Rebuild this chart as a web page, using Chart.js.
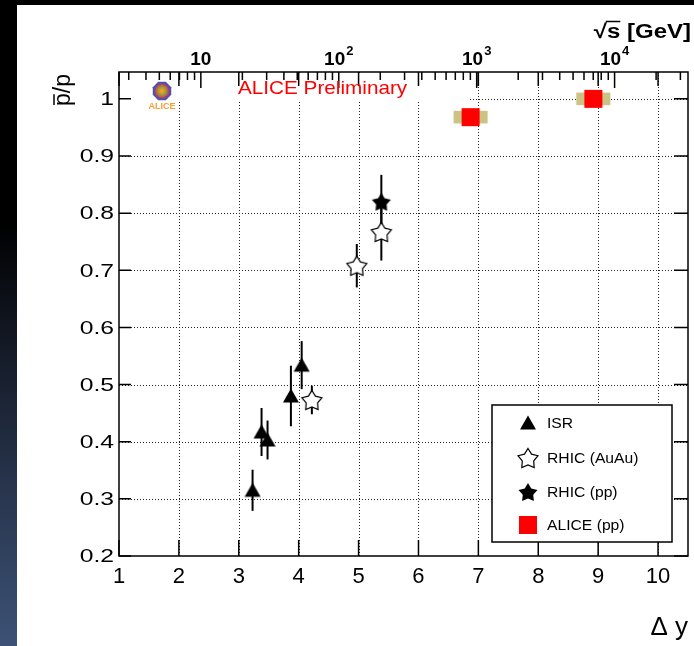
<!DOCTYPE html>
<html>
<head>
<meta charset="utf-8">
<script src="https://cdn.jsdelivr.net/npm/chart.js"></script>
<style>
  html, body { margin: 0; padding: 0; }
  body {
    width: 694px; height: 646px; overflow: hidden; position: relative;
    background: linear-gradient(to bottom, #000 0%, #000 34%, #1a2232 60%, #3d5276 100%);
  }
  #panel { position: absolute; left: 17px; top: 5px; width: 677px; height: 641px; background: #fff; }
</style>
</head>
<body>
<div id="panel"><canvas id="chart" width="677" height="641"></canvas></div>
<script>
// pbar/p ratio vs rapidity gap (bottom) and sqrt(s) (top)
const xMin = 1;
const xMax = 10.5;
const yMin = 0.2;
const yMax = 1.047;
const protonMass = 0.938;

const xTicks = [1, 2, 3, 4, 5, 6, 7, 8, 9, 10];
const yTicks = [0.2, 0.3, 0.4, 0.5, 0.6, 0.7, 0.8, 0.9, 1.0];
const sqrtsTicks = [10, 100, 1000, 10000];
const sqrtsExp = ["", "2", "3", "4"];

const isrX = [3.23, 3.38, 3.48, 3.87, 4.05];
const isrY = [0.315, 0.417, 0.403, 0.480, 0.534];
const isrErr = [0.036, 0.042, 0.034, 0.053, 0.042];

const auauX = [4.22, 4.97, 5.38];
const auauY = [0.473, 0.708, 0.767];
const auauErr = [0.025, 0.038, 0.050];

const rhicPpX = [5.38];
const rhicPpY = [0.820];
const rhicPpErr = [0.047];

const aliceX = [6.87, 8.92];
const aliceY = [0.968, 1.000];
const aliceSys = [0.011, 0.011];

const FONT = "'Liberation Sans', Arial, Helvetica, sans-serif";

function marker(size, draw) {
    const c = document.createElement("canvas");
    c.width = size;
    c.height = size;
    draw(c.getContext("2d"), size / 2);
    return c;
}

function starPath(g, c, R, r) {
    g.beginPath();
    for (let i = 0; i < 10; i++) {
        const a = -Math.PI / 2 + i * Math.PI / 5;
        const rad = i % 2 ? r : R;
        const px = c + Math.cos(a) * rad;
        const py = c + 1 + Math.sin(a) * rad;
        if (i === 0) g.moveTo(px, py); else g.lineTo(px, py);
    }
    g.closePath();
}

const triangleImg = marker(18, (g, c) => {
    g.beginPath();
    g.moveTo(c, c - 7.5);
    g.lineTo(c + 8, c + 6.5);
    g.lineTo(c - 8, c + 6.5);
    g.closePath();
    g.fillStyle = "#000";
    g.fill();
});

const openStarImg = marker(26, (g, c) => {
    starPath(g, c, 10.5, 6);
    g.fillStyle = "#fff";
    g.fill();
    g.lineWidth = 1.2;
    g.strokeStyle = "#000";
    g.stroke();
});

const fullStarImg = marker(24, (g, c) => {
    starPath(g, c, 10, 5.5);
    g.fillStyle = "#000";
    g.fill();
});

const squareImg = marker(20, (g, c) => {
    g.fillStyle = "#ff0000";
    g.fillRect(c - 9, c - 9, 18, 18);
});

function pts(xs, ys) {
    return xs.map((x, i) => ({ x: x, y: ys[i] }));
}

function topMinorTicks() {
    const out = [];
    const lo = protonMass * Math.exp(xMin);
    const hi = protonMass * Math.exp(xMax);
    for (let k = 0; k < 5; k++) {
        for (let m = 2; m <= 9; m++) {
            const v = m * Math.pow(10, k);
            if (v > lo && v < hi) out.push(v);
        }
    }
    return out;
}

const rootStyle = {
    id: "rootStyle",
    beforeDatasetsDraw(chart) {
        const { ctx, chartArea: a, scales } = chart;
        const x = scales.x, y = scales.y;
        ctx.save();

        // dotted grid
        ctx.strokeStyle = "#222";
        ctx.lineWidth = 1;
        ctx.setLineDash([1, 2]);
        xTicks.slice(1).forEach(v => {
            const px = Math.round(x.getPixelForValue(v)) + 0.5;
            ctx.beginPath();
            ctx.moveTo(px, a.top);
            ctx.lineTo(px, a.bottom);
            ctx.stroke();
        });
        yTicks.slice(1).forEach(v => {
            const py = Math.round(y.getPixelForValue(v)) + 0.5;
            ctx.beginPath();
            ctx.moveTo(a.left, py);
            ctx.lineTo(a.right, py);
            ctx.stroke();
        });
        ctx.setLineDash([]);

        // opaque label pad behind logo and "ALICE Preliminary"
        ctx.fillStyle = "#fff";
        ctx.fillRect(a.left + 3, a.top + 1, 346, 28);

        // systematic boxes
        chart.data.datasets.forEach((ds, di) => {
            if (!ds.sys) return;
            const meta = chart.getDatasetMeta(di);
            meta.data.forEach((el, i) => {
                const top = y.getPixelForValue(ds.data[i].y + ds.sys[i]);
                const bot = y.getPixelForValue(ds.data[i].y - ds.sys[i]);
                ctx.fillStyle = "#cbc283";
                ctx.fillRect(el.x - 17, top, 34, bot - top);
            });
        });

        // error bars
        ctx.strokeStyle = "#000";
        ctx.lineWidth = 2;
        chart.data.datasets.forEach((ds, di) => {
            if (!ds.errors) return;
            const meta = chart.getDatasetMeta(di);
            meta.data.forEach((el, i) => {
                const top = y.getPixelForValue(ds.data[i].y + ds.errors[i]);
                const bot = y.getPixelForValue(ds.data[i].y - ds.errors[i]);
                ctx.beginPath();
                ctx.moveTo(el.x, top);
                ctx.lineTo(el.x, bot);
                ctx.stroke();
            });
        });
        ctx.restore();
    },
    afterDatasetsDraw(chart) {
        const { ctx, chartArea: a, scales } = chart;
        const x = scales.x, y = scales.y, x2 = scales.x2;
        ctx.save();

        // frame
        ctx.strokeStyle = "#000";
        ctx.lineWidth = 1.5;
        ctx.strokeRect(a.left, a.top, a.right - a.left, a.bottom - a.top);

        // ticks, drawn inside the frame
        ctx.beginPath();
        xTicks.forEach(v => {
            const px = x.getPixelForValue(v);
            ctx.moveTo(px, a.bottom);
            ctx.lineTo(px, a.bottom - 16);
            ctx.moveTo(px, a.top);
            ctx.lineTo(px, a.top + 14);
        });
        yTicks.forEach(v => {
            const py = y.getPixelForValue(v);
            ctx.moveTo(a.left, py);
            ctx.lineTo(a.left + 12, py);
            ctx.moveTo(a.right, py);
            ctx.lineTo(a.right - 14, py);
        });
        sqrtsTicks.forEach(v => {
            const px = x2.getPixelForValue(v);
            ctx.moveTo(px, a.top);
            ctx.lineTo(px, a.top + 16);
        });
        topMinorTicks().forEach(v => {
            const px = x2.getPixelForValue(v);
            ctx.moveTo(px, a.top);
            ctx.lineTo(px, a.top + 8);
        });
        ctx.stroke();

        // y tick labels (ROOT output is horizontally stretched)
        ctx.fillStyle = "#000";
        ctx.font = "19px " + FONT;
        ctx.textAlign = "right";
        ctx.textBaseline = "middle";
        yTicks.forEach(v => {
            const py = y.getPixelForValue(v);
            ctx.save();
            ctx.translate(a.left - 5, py + 1);
            ctx.scale(1.3, 1);
            ctx.fillText(v === 1 ? "1" : v.toFixed(1), 0, 0);
            ctx.restore();
        });

        // top axis labels 10, 10^2 ...
        ctx.textBaseline = "alphabetic";
        ctx.textAlign = "left";
        sqrtsTicks.forEach((v, i) => {
            const px = x2.getPixelForValue(v);
            ctx.font = "bold 19px " + FONT;
            const w1 = ctx.measureText("10").width;
            ctx.font = "bold 13px " + FONT;
            const w2 = sqrtsExp[i] ? ctx.measureText(sqrtsExp[i]).width + 1 : 0;
            const x0 = px - (w1 + w2) / 2;
            ctx.font = "bold 19px " + FONT;
            ctx.fillText("10", x0, 60);
            if (sqrtsExp[i]) {
                ctx.font = "bold 13px " + FONT;
                ctx.fillText(sqrtsExp[i], x0 + w1 + 1, 50);
            }
        });

        // sqrt(s) [GeV]
        ctx.font = "bold 20px " + FONT;
        ctx.textAlign = "right";
        ctx.save();
        ctx.translate(674, 33);
        ctx.scale(1.2, 1);
        ctx.fillText("\u221As [GeV]", 0, 0);
        const wAll = ctx.measureText("\u221As [GeV]").width;
        const wRoot = ctx.measureText("\u221A").width;
        const wS = ctx.measureText("s").width;
        const sx = -wAll + wRoot - 1;
        ctx.lineWidth = 1.5;
        ctx.beginPath();
        ctx.moveTo(sx, -16.5);
        ctx.lineTo(sx + wS + 1, -16.5);
        ctx.stroke();
        ctx.restore();

        // y title  pbar/p
        ctx.save();
        ctx.translate(53, 69);
        ctx.rotate(-Math.PI / 2);
        ctx.font = "23px " + FONT;
        ctx.textAlign = "right";
        ctx.textBaseline = "alphabetic";
        ctx.fillText("p/p", 0, 0);
        const wt = ctx.measureText("p/p").width;
        const wp = ctx.measureText("p").width;
        ctx.lineWidth = 1.5;
        ctx.beginPath();
        ctx.moveTo(-wt + 1, -16);
        ctx.lineTo(-wt + wp - 1, -16);
        ctx.stroke();
        ctx.restore();

        // ALICE Preliminary
        ctx.fillStyle = "#ff0000";
        ctx.font = "19px " + FONT;
        ctx.textAlign = "left";
        ctx.textBaseline = "middle";
        ctx.save();
        ctx.translate(221, 84);
        ctx.scale(1.09, 1);
        ctx.fillText("ALICE Preliminary", 0, 0);
        ctx.restore();

        // ALICE logo
        const lx = 145, ly = 86;
        ctx.beginPath();
        for (let i = 0; i < 8; i++) {
            const ang = Math.PI / 8 + i * Math.PI / 4;
            const px = lx + Math.cos(ang) * 10, py = ly + Math.sin(ang) * 10;
            if (i === 0) ctx.moveTo(px, py); else ctx.lineTo(px, py);
        }
        ctx.closePath();
        ctx.fillStyle = "#5a4fa8";
        ctx.fill();
        const grad = ctx.createRadialGradient(lx, ly, 1, lx, ly, 7);
        grad.addColorStop(0, "#f6a21e");
        grad.addColorStop(0.5, "#9a9a40");
        grad.addColorStop(1, "#d23a4a");
        ctx.beginPath();
        ctx.arc(lx, ly, 7, 0, Math.PI * 2);
        ctx.fillStyle = grad;
        ctx.fill();
        ctx.fillStyle = "#f5a030";
        ctx.font = "bold 9px " + FONT;
        ctx.textAlign = "center";
        ctx.fillText("ALICE", lx, ly + 16);

        // legend box
        const bx = 475, by = 400, bw = 180, bh = 137;
        ctx.fillStyle = "#fff";
        ctx.fillRect(bx, by, bw, bh);
        ctx.strokeStyle = "#000";
        ctx.lineWidth = 1.5;
        ctx.strokeRect(bx, by, bw, bh);
        const rows = [418, 453, 487, 520];
        ctx.font = "14px " + FONT;
        ctx.textAlign = "left";
        ctx.textBaseline = "middle";
        chart.data.datasets.forEach((ds, i) => {
            const img = ds.pointStyle;
            ctx.drawImage(img, 511 - img.width / 2, rows[i] - img.height / 2);
            ctx.fillStyle = "#000";
            ctx.save();
            ctx.translate(530, rows[i] + 1);
            ctx.scale(1.12, 1);
            ctx.fillText(ds.label, 0, 0);
            ctx.restore();
        });
        ctx.restore();
    }
};

new Chart(document.getElementById("chart"), {
    type: "scatter",
    data: {
        datasets: [
            { label: "ISR", data: pts(isrX, isrY), errors: isrErr, pointStyle: triangleImg },
            { label: "RHIC (AuAu)", data: pts(auauX, auauY), errors: auauErr, pointStyle: openStarImg },
            { label: "RHIC (pp)", data: pts(rhicPpX, rhicPpY), errors: rhicPpErr, pointStyle: fullStarImg },
            { label: "ALICE (pp)", data: pts(aliceX, aliceY), sys: aliceSys, pointStyle: squareImg }
        ]
    },
    options: {
        responsive: false,
        animation: false,
        events: [],
        layout: { padding: { left: 0, right: 6, top: 0, bottom: 0 } },
        plugins: { legend: { display: false }, tooltip: { enabled: false } },
        scales: {
            x: {
                type: "linear",
                position: "bottom",
                min: xMin,
                max: xMax,
                afterBuildTicks: s => { s.ticks = xTicks.map(v => ({ value: v })); },
                afterFit: s => { s.height = 90; },
                grid: { display: false, drawTicks: false },
                border: { display: false },
                ticks: {
                    color: "#000",
                    padding: 8,
                    maxRotation: 0,
                    autoSkip: false,
                    font: { family: FONT, size: 22 },
                    callback: v => String(v)
                },
                title: {
                    display: true,
                    text: "\u0394 y",
                    align: "end",
                    color: "#000",
                    font: { family: FONT, size: 26 },
                    padding: { top: 0, bottom: 3 }
                }
            },
            x2: {
                type: "logarithmic",
                position: "top",
                min: protonMass * Math.exp(xMin),
                max: protonMass * Math.exp(xMax),
                afterFit: s => { s.height = 67; },
                grid: { display: false, drawTicks: false },
                border: { display: false },
                ticks: { display: false }
            },
            y: {
                type: "linear",
                min: yMin,
                max: yMax,
                afterBuildTicks: s => { s.ticks = yTicks.map(v => ({ value: v })); },
                afterFit: s => { s.width = 102; },
                grid: { display: false, drawTicks: false },
                border: { display: false },
                ticks: { display: false }
            }
        }
    },
    plugins: [rootStyle]
});
</script>
</body>
</html>
